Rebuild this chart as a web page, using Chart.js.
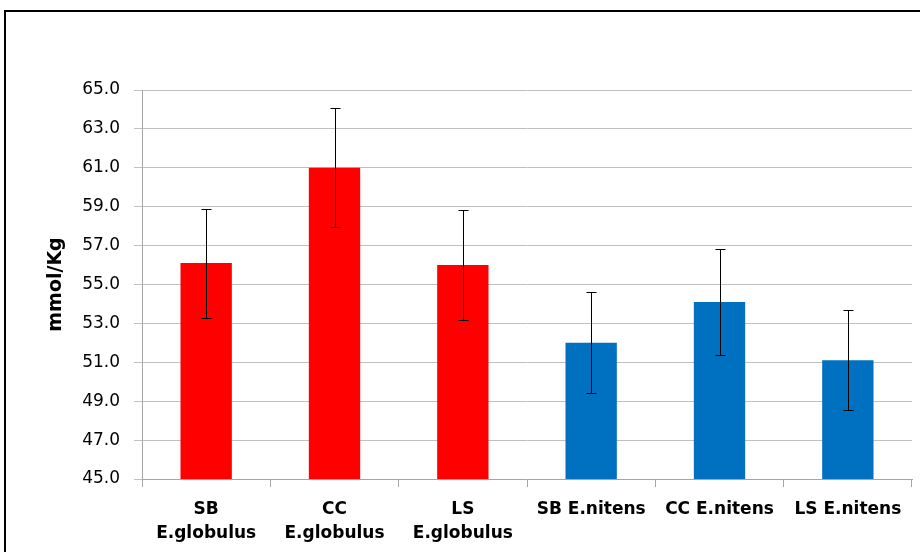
<!DOCTYPE html>
<html>
<head>
<meta charset="utf-8">
<script src="https://cdn.jsdelivr.net/npm/chart.js@4.4.0/dist/chart.umd.min.js"></script>
<style>
  html, body { margin: 0; padding: 0; background: #fff; overflow: hidden; }
  #wrap { position: relative; width: 920px; height: 552px; }
  #frame { position: absolute; left: 4px; top: 10px; width: 930px; height: 600px;
           border: 2px solid #000; box-sizing: border-box; pointer-events: none; }
  canvas { position: absolute; left: 0; top: 0; }
</style>
</head>
<body>
<div id="wrap">
  <canvas id="myChart" width="920" height="552"></canvas>
  <div id="frame"></div>
</div>
<script>
// data
const categories = [
  ["SB", "E.globulus"],
  ["CC", "E.globulus"],
  ["LS", "E.globulus"],
  "SB E.nitens",
  "CC E.nitens",
  "LS E.nitens"
];
const means = [56.1, 61.0, 56.0, 52.0, 54.1, 51.1];
const errors = [2.8, 3.05, 2.83, 2.6, 2.75, 2.57];
const barColors = ["#FF0000", "#FF0000", "#FF0000", "#0070C0", "#0070C0", "#0070C0"];
const yMin = 45;
const yMax = 65;
const yStep = 2;

const errorBars = {
  id: "errorBars",
  afterDatasetsDraw(chart) {
    const ctx = chart.ctx;
    const yScale = chart.scales.y;
    const meta = chart.getDatasetMeta(0);
    ctx.save();
    ctx.strokeStyle = "#000";
    ctx.lineWidth = 1;
    meta.data.forEach((bar, i) => {
      const x = Math.round(bar.x) + 0.5;
      const top = Math.round(yScale.getPixelForValue(means[i] + errors[i])) + 0.5;
      const bottom = Math.round(yScale.getPixelForValue(means[i] - errors[i])) + 0.5;
      ctx.beginPath();
      ctx.moveTo(x, top);
      ctx.lineTo(x, bottom);
      ctx.moveTo(x - 5, top);
      ctx.lineTo(x + 5, top);
      ctx.moveTo(x - 5, bottom);
      ctx.lineTo(x + 5, bottom);
      ctx.stroke();
    });
    ctx.restore();
  }
};

const ctx = document.getElementById("myChart").getContext("2d");
new Chart(ctx, {
  type: "bar",
  data: {
    labels: categories,
    datasets: [{
      data: means,
      backgroundColor: barColors,
      borderWidth: 0,
      barPercentage: 0.4,
      categoryPercentage: 1.0
    }]
  },
  options: {
    responsive: false,
    animation: false,
    layout: { padding: { top: 90, right: 8, left: 0, bottom: 0 } },
    plugins: {
      legend: { display: false },
      tooltip: { enabled: false }
    },
    scales: {
      x: {
        offset: true,
        grid: {
          offset: true,
          drawOnChartArea: false,
          drawTicks: true,
          tickLength: 8,
          color: "#a6a6a6"
        },
        border: { color: "#a6a6a6" },
        ticks: {
          color: "#000",
          padding: 10,
          maxRotation: 0,
          autoSkip: false,
          font: { family: "DejaVu Sans", size: 17, weight: "bold", lineHeight: 1.45 }
        },
        afterFit(scale) { scale.height = 73; }
      },
      y: {
        min: yMin,
        max: yMax,
        grid: {
          color: "#c0c0c0",
          lineWidth: 1,
          tickLength: 8
        },
        border: { color: "#a6a6a6" },
        ticks: {
          stepSize: yStep,
          color: "#000",
          padding: 14,
          font: { family: "DejaVu Sans", size: 17 },
          callback: (v) => v.toFixed(1)
        },
        title: {
          display: true,
          text: "mmol/Kg",
          color: "#000",
          padding: { top: 45, bottom: 0 },
          font: { family: "DejaVu Sans", size: 19, weight: "bold" }
        },
        afterFit(scale) { scale.width = 142; }
      }
    }
  },
  plugins: [errorBars]
});
</script>
</body>
</html>
